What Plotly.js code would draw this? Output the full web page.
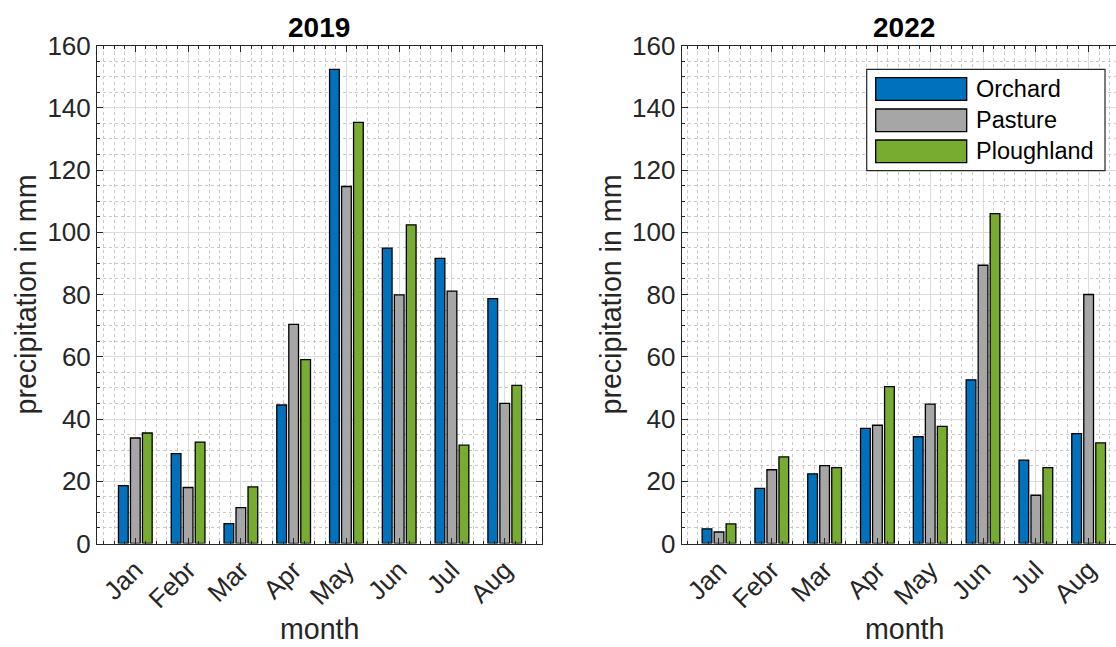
<!DOCTYPE html>
<html>
<head>
<meta charset="utf-8">
<script src="https://cdn.plot.ly/plotly-3.0.1.min.js"></script>
<style>
  html, body { margin: 0; padding: 0; background: #ffffff; }
  #chart { width: 1116px; height: 647px; }
</style>
</head>
<body>
<div id="chart"></div>
<script>
// Monthly precipitation (mm) by land use, 2019 vs 2022
const months = ['Jan', 'Febr', 'Mar', 'Apr', 'May', 'Jun', 'Jul', 'Aug'];
const seriesNames = ['Orchard', 'Pasture', 'Ploughland'];

const orchard2019    = [18.6, 28.9, 6.4, 44.5, 152.3, 94.9, 91.6, 78.7];
const pasture2019    = [33.9, 18.0, 11.5, 70.4, 114.7, 79.9, 81.1, 45.0];
const ploughland2019 = [35.5, 32.6, 18.2, 59.1, 135.3, 102.4, 31.6, 50.8];

const orchard2022    = [4.7, 17.7, 22.4, 37.0, 34.3, 52.6, 26.8, 35.3];
const pasture2022    = [3.7, 23.7, 25.0, 38.0, 44.8, 89.4, 15.5, 80.0];
const ploughland2022 = [6.3, 27.8, 24.4, 50.4, 37.6, 106.0, 24.4, 32.3];

const yTicks = [0, 20, 40, 60, 80, 100, 120, 140, 160];

// ---- styling ----
const W = 1116, H = 647;
const colors = ['#0072BD', '#A6A6A6', '#77AC30'];
const ink = '#262626';
const font = 'Liberation Sans, Arial, Helvetica, sans-serif';
const px = v => v / W;
const py = v => 1 - v / H;

const monthPos = months.map((m, i) => i);

function bars(values, idx, xa, ya) {
  return {
    type: 'bar',
    x: monthPos,
    y: values,
    name: seriesNames[idx],
    xaxis: xa, yaxis: ya,
    marker: { color: colors[idx], line: { color: '#000000', width: 1.3 } },
    showlegend: false,
    hoverinfo: 'x+y+name'
  };
}

const data = [
  bars(orchard2019, 0, 'x', 'y'),
  bars(pasture2019, 1, 'x', 'y'),
  bars(ploughland2019, 2, 'x', 'y'),
  bars(orchard2022, 0, 'x2', 'y2'),
  bars(pasture2022, 1, 'x2', 'y2'),
  bars(ploughland2022, 2, 'x2', 'y2')
];

const plotTop = 45.5, plotBottom = 543.5;
const yDomain = [py(plotBottom), py(plotTop)];

function xAxis(domain, range, anchor) {
  return {
    domain: domain, range: range, anchor: anchor,
    tickmode: 'array', tickvals: monthPos, ticktext: months,
    tickangle: -45,
    tickfont: { family: font, size: 26, color: ink },
    ticks: 'inside', ticklen: 6, tickcolor: ink, tickwidth: 1,
    showline: true, linecolor: ink, linewidth: 1, mirror: 'allticks',
    showgrid: true, gridcolor: '#dcdcdc', gridwidth: 1,
    minor: { tick0: 0, dtick: 0.2, ticks: 'inside', ticklen: 3, tickcolor: ink,
             showgrid: true, gridcolor: '#c8c8c8', griddash: 'dot', gridwidth: 1 },
    zeroline: false, fixedrange: true
  };
}

function yAxis(anchor, mirror) {
  return {
    domain: yDomain, range: [0, 160], anchor: anchor,
    tickmode: 'array', tickvals: yTicks,
    tickfont: { family: font, size: 26, color: ink },
    ticks: 'inside', ticklen: 6, tickcolor: ink, tickwidth: 1,
    showline: true, linecolor: ink, linewidth: 1, mirror: mirror,
    showgrid: true, gridcolor: '#dcdcdc', gridwidth: 1,
    minor: { tick0: 0, dtick: 5, ticks: 'inside', ticklen: 3, tickcolor: ink,
             showgrid: true, gridcolor: '#c8c8c8', griddash: 'dot', gridwidth: 1 },
    zeroline: false, fixedrange: true
  };
}

// Legend drawn as a framed box with large swatches
const legendBox = { x0: 866.7, x1: 1105, y0: 69.3, y1: 170.7 };
const swatchRows = [89, 120.3, 151.3];
const shapes = [
  { type: 'rect', xref: 'paper', yref: 'paper',
    x0: px(legendBox.x0), x1: px(legendBox.x1), y0: py(legendBox.y1), y1: py(legendBox.y0),
    fillcolor: '#ffffff', line: { color: ink, width: 1.2 }, layer: 'above' }
];
const annotations = [];
seriesNames.forEach((name, i) => {
  shapes.push({ type: 'rect', xref: 'paper', yref: 'paper',
    x0: px(875.7), x1: px(966.7), y0: py(swatchRows[i] + 11.3), y1: py(swatchRows[i] - 11.3),
    fillcolor: colors[i], line: { color: '#000000', width: 1.3 }, layer: 'above' });
  annotations.push({ xref: 'paper', yref: 'paper', x: px(974), y: py(swatchRows[i]),
    xanchor: 'left', yanchor: 'middle', showarrow: false, text: name,
    font: { family: font, size: 23.5, color: '#000000' } });
});

function label(text, x, y, size, opts) {
  return Object.assign({ xref: 'paper', yref: 'paper', x: px(x), y: py(y),
    xanchor: 'center', yanchor: 'middle', showarrow: false, text: text,
    font: { family: font, size: size, color: ink } }, opts || {});
}

annotations.push(
  label('<b>2019</b>', 319.3, 27, 28, { font: { family: font, size: 28, color: '#000000' } }),
  label('<b>2022</b>', 904, 27, 28, { font: { family: font, size: 28, color: '#000000' } }),
  label('month', 319.3, 629, 28.6),
  label('month', 904, 629, 28.6),
  label('precipitation in mm', 26, 294.5, 28.6, { textangle: -90 }),
  label('precipitation in mm', 611, 294.5, 28.6, { textangle: -90 })
);

const layout = {
  width: W, height: H,
  margin: { l: 0, r: 0, t: 0, b: 0, pad: 0 },
  paper_bgcolor: '#ffffff', plot_bgcolor: '#ffffff',
  barmode: 'group', bargap: 0.318, bargroupgap: 0.19,
  showlegend: false,
  font: { family: font, color: ink },
  xaxis:  xAxis([px(97), px(541.7)], [-0.726, 7.70], 'y'),
  yaxis:  yAxis('x', 'allticks'),
  xaxis2: xAxis([px(681.7), 1], [-0.706, 7.518], 'y2'),
  yaxis2: yAxis('x2', false),
  shapes: shapes,
  annotations: annotations
};

Plotly.newPlot('chart', data, layout, { displayModeBar: false, staticPlot: true });
</script>
</body>
</html>
